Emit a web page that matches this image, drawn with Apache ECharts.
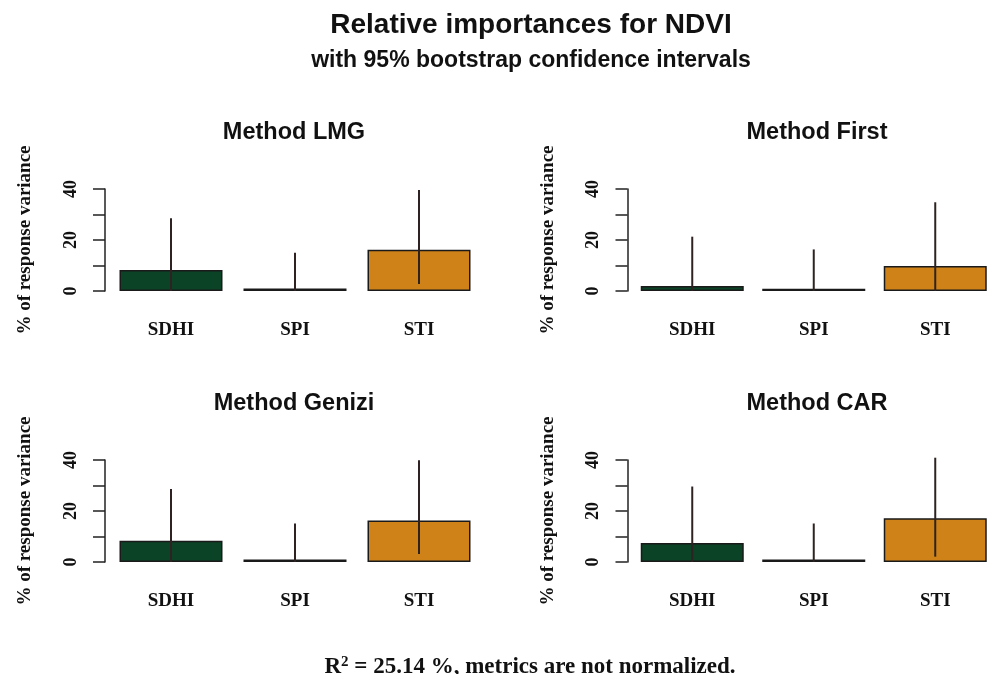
<!DOCTYPE html>
<html>
<head>
<meta charset="utf-8">
<script src="https://cdn.jsdelivr.net/npm/echarts@6/dist/echarts.min.js"></script>
<style>html,body{margin:0;padding:0;background:#ffffff;}#main{width:996px;height:674px;}</style>
</head>
<body>
<div id="main"></div>
<script>
// ---- data ----
const categories = ['SDHI', 'SPI', 'STI'];
const methods = ['Method LMG', 'Method First', 'Method Genizi', 'Method CAR'];
const barColors = ['#0b4326', '#7a4a1c', '#cf8217'];
// relative importance (% of response variance)
const lmgValues    = [8.2, 1.0, 16.2];
const firstValues  = [2.0, 0.9, 9.8];
const geniziValues = [8.3, 1.0, 16.3];
const carValues    = [7.5, 1.0, 17.2];
// 95% bootstrap CI lower / upper
const lmgLower    = [0.0, 0.0, 2.7];
const lmgUpper    = [28.5, 15.0, 39.6];
const firstLower  = [0.0, 0.0, 0.0];
const firstUpper  = [21.3, 16.3, 34.8];
const geniziLower = [0.0, 0.0, 3.1];
const geniziUpper = [28.6, 15.1, 39.9];
const carLower    = [0.0, 0.0, 2.1];
const carUpper    = [29.6, 15.1, 40.9];
const yTicks = [0, 10, 20, 30, 40];
const yLabelled = [0, 20, 40];

const panelValues = [lmgValues, firstValues, geniziValues, carValues];
const panelLower = [lmgLower, firstLower, geniziLower, carLower];
const panelUpper = [lmgUpper, firstUpper, geniziUpper, carUpper];

// ---- layout ----
const gridPos = [
  {left: 109, top: 189, width: 372, height: 102},
  {left: 631.5, top: 189, width: 372, height: 102},
  {left: 109, top: 460, width: 372, height: 102},
  {left: 631.5, top: 460, width: 372, height: 102}
];
const titleCenters = [289, 812, 289, 812];
const titleTops = [116, 116, 387, 387];

const serif = '"Liberation Serif", "DejaVu Serif", serif';
const sans = '"Liberation Sans", Arial, sans-serif';

const chart = echarts.init(document.getElementById('main'), null, {renderer: 'canvas'});

const grids = [], xAxes = [], yAxes = [], series = [], titles = [];

titles.push({text: 'Relative importances for NDVI', left: 526, top: 6, textAlign: 'center',
  textStyle: {fontFamily: sans, fontWeight: 'bold', fontSize: 28, color: '#111'}});
titles.push({text: 'with 95% bootstrap confidence intervals', left: 526, top: 44, textAlign: 'center',
  textStyle: {fontFamily: sans, fontWeight: 'bold', fontSize: 23, color: '#111'}});
titles.push({text: 'R{sup|2} = 25.14 %, metrics are not normalized.', left: 525, top: 650, textAlign: 'center',
  textStyle: {fontFamily: serif, fontWeight: 'bold', fontSize: 23, color: '#111',
    rich: {sup: {fontFamily: serif, fontWeight: 'bold', fontSize: 15, verticalAlign: 'top', padding: [0, 0, 10, 0], color: '#111'}}}});

for (let p = 0; p < 4; p++) {
  grids.push(Object.assign({containLabel: false}, gridPos[p]));
  titles.push({text: methods[p], left: titleCenters[p], top: titleTops[p], textAlign: 'center',
    textStyle: {fontFamily: sans, fontWeight: 'bold', fontSize: 23.5, color: '#111'}});
  xAxes.push({
    type: 'category', gridIndex: p, data: categories,
    axisLine: {show: false}, axisTick: {show: false}, splitLine: {show: false},
    axisLabel: {fontFamily: serif, fontWeight: 'bold', fontSize: 19, color: '#111', margin: 30}
  });
  yAxes.push({
    type: 'value', gridIndex: p, min: yTicks[0], max: yTicks[yTicks.length - 1], interval: 10,
    offset: 4,
    name: '% of response variance', nameLocation: 'middle', nameGap: 70,
    nameTextStyle: {fontFamily: serif, fontWeight: 'bold', fontSize: 19, color: '#111'},
    axisLine: {show: true, lineStyle: {color: '#222', width: 1.5}},
    axisTick: {show: true, length: 12, lineStyle: {color: '#222', width: 1.5}},
    splitLine: {show: false},
    axisLabel: {rotate: 90, margin: 25, fontFamily: serif, fontWeight: 'bold', fontSize: 18, color: '#111',
      formatter: v => yLabelled.indexOf(v) >= 0 ? String(v) : ''}
  });
  series.push({
    type: 'bar', xAxisIndex: p, yAxisIndex: p, barWidth: 103,
    data: panelValues[p].map((v, i) => ({value: v, itemStyle: {color: barColors[i]}})),
    itemStyle: {borderColor: '#1a1a1a', borderWidth: 1.5},
    silent: true
  });
  series.push({
    type: 'custom', xAxisIndex: p, yAxisIndex: p, clip: false, z: 5,
    data: categories.map((c, i) => [i, panelLower[p][i], panelUpper[p][i]]),
    renderItem: function (params, api) {
      const a = api.coord([api.value(0), api.value(1)]);
      const b = api.coord([api.value(0), api.value(2)]);
      return {type: 'line', shape: {x1: a[0], y1: a[1], x2: b[0], y2: b[1]},
        style: {stroke: '#2e2222', lineWidth: 2}};
    },
    silent: true
  });
}

chart.setOption({
  backgroundColor: '#ffffff',
  animation: false,
  title: titles,
  grid: grids,
  xAxis: xAxes,
  yAxis: yAxes,
  series: series
});
</script>
</body>
</html>
